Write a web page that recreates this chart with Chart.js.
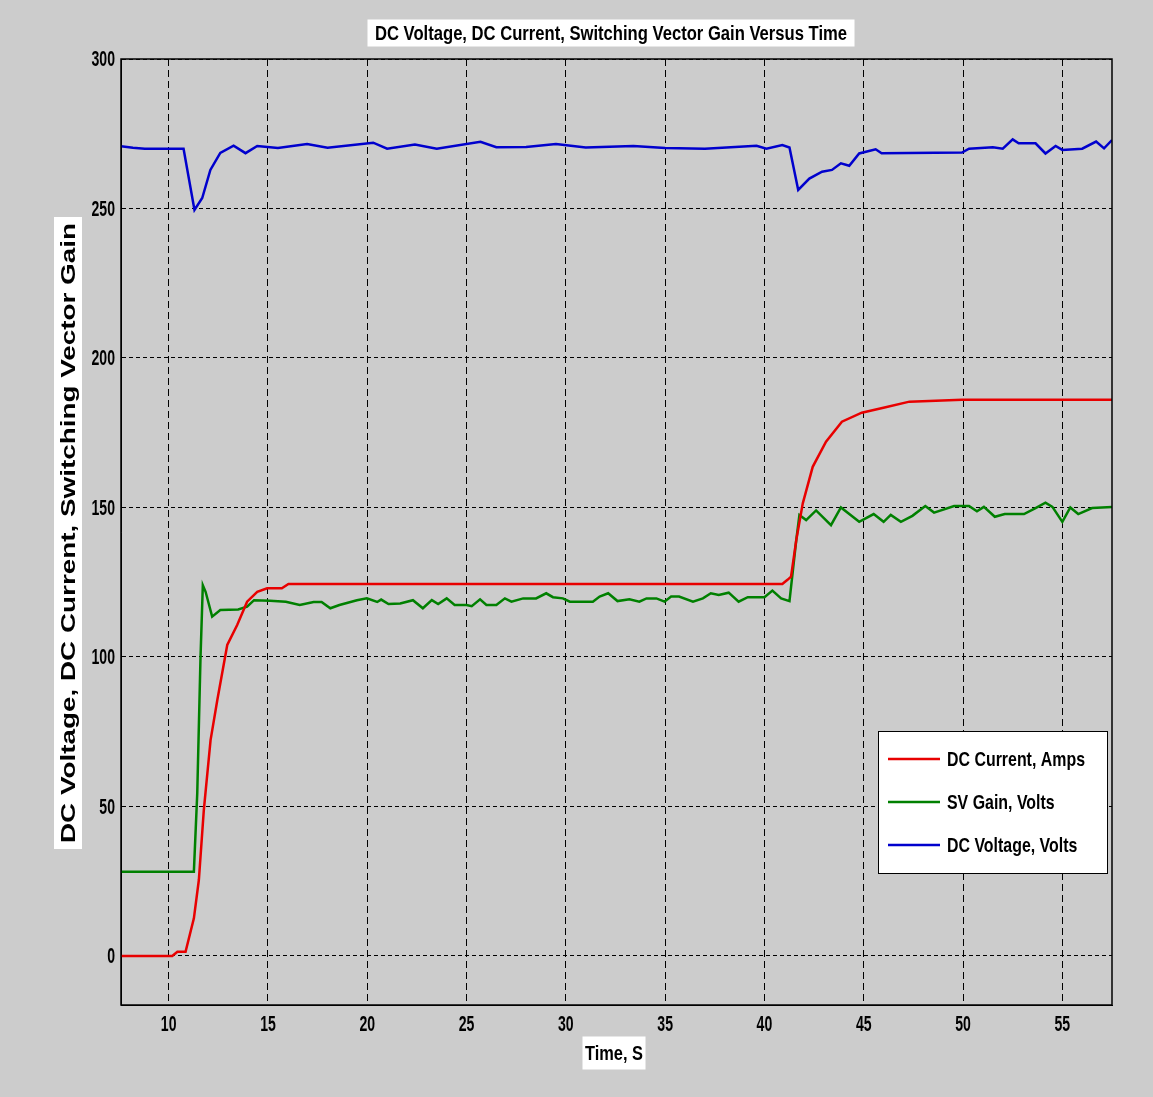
<!DOCTYPE html>
<html>
<head>
<meta charset="utf-8">
<script src="https://cdn.jsdelivr.net/npm/chart.js@4.4.1/dist/chart.umd.min.js"></script>
<style>
  html, body { margin: 0; padding: 0; background: #cccccc; }
  #wrap { width: 1153px; height: 1097px; }
</style>
</head>
<body>
<div id="wrap"><canvas id="chart" width="1153" height="1097"></canvas></div>
<script>
// axis ticks
const timeTicks = [10, 15, 20, 25, 30, 35, 40, 45, 50, 55];
const valueTicks = [0, 50, 100, 150, 200, 250, 300];

// DC current, amps
const currentTime = [7.6, 10.18, 10.44, 10.85, 11.27, 11.52, 11.77, 12.11, 12.45, 12.95, 13.45, 13.95, 14.46, 14.96, 15.7, 16.03,
  40.9, 41.16, 41.34, 41.6, 41.93, 42.43, 43.1, 43.9, 44.9, 46.1, 47.3, 49.95, 57.5];
const currentAmps = [0, 0, 1.4, 1.4, 12.6, 25.4, 48.8, 72.2, 85.6, 104, 110.7, 118.5, 121.8, 123, 123, 124.4,
  124.4, 125.8, 126.9, 139, 151.4, 163.6, 172, 178.7, 181.7, 183.5, 185.4, 186, 186];

// switching vector gain, volts
const gainTime = [7.6, 11.27, 11.44, 11.6, 11.72, 11.86, 12.19, 12.6, 13.5, 13.95, 14.3, 15.1, 15.9, 16.6, 17.3, 17.7,
  18.14, 18.6, 19.48, 19.98, 20.5, 20.7, 21.07, 21.66, 22.3, 22.8, 23.25, 23.57, 24.0, 24.4, 25.0, 25.26,
  25.68, 26.0, 26.5, 26.93, 27.26, 27.85, 28.5, 29.01, 29.35, 29.85, 30.2, 31.36, 31.7, 32.13, 32.6, 33.2,
  33.7, 34.06, 34.56, 34.97, 35.3, 35.7, 36.4, 36.9, 37.3, 37.7, 38.2, 38.7, 39.16, 40.0, 40.4, 40.84,
  41.26, 41.6, 41.76, 42.1, 42.6, 43.35, 43.85, 44.77, 45.5, 46.0, 46.36, 46.87, 47.45, 48.1, 48.54, 49.55,
  50.3, 50.7, 51.05, 51.6, 52.1, 53.07, 53.65, 54.15, 54.5, 55.0, 55.4, 55.8, 56.5, 57.5];
const gainVolts = [28.2, 28.2, 54.5, 99, 124, 121.8, 113.5, 115.7, 115.9, 116.8, 119, 118.8, 118.5, 117.4, 118.4, 118.4,
  116.3, 117.4, 119, 119.6, 118.4, 119.2, 117.7, 117.9, 119, 116.3, 119, 117.7, 119.6, 117.4, 117.4, 117,
  119.3, 117.4, 117.4, 119.6, 118.5, 119.6, 119.6, 121.3, 120, 119.6, 118.5, 118.5, 120.2, 121.3, 118.7, 119.3,
  118.5, 119.6, 119.6, 118.5, 120.2, 120.2, 118.5, 119.6, 121.3, 120.7, 121.5, 118.5, 120, 120, 122.2, 119.6,
  118.7, 139, 147.5, 145.8, 149, 144.1, 150, 145.2, 147.8, 145.2, 147.5, 145.2, 147.2, 150.5, 148.3, 150.5,
  150.5, 148.7, 150.2, 146.9, 147.8, 147.8, 149.8, 151.6, 150.2, 145.2, 150, 147.8, 149.8, 150.2];

// DC voltage, volts
const voltageTime = [7.6, 8.2, 8.8, 10.0, 10.75, 11.3, 11.69, 12.1, 12.6, 13.27, 13.87, 14.46, 15.5, 16.97, 18.0, 20.3,
  21.0, 22.4, 23.5, 25.7, 26.5, 28.0, 29.5, 31.0, 33.4, 35.0, 37.0, 39.6, 40.1, 40.9, 41.26, 41.7,
  42.26, 42.9, 43.4, 43.85, 44.27, 44.77, 45.6, 45.9, 49.95, 50.3, 51.5, 52.0, 52.5, 52.8, 53.65, 54.15,
  54.66, 55.0, 56.0, 56.7, 57.1, 57.5];
const voltageVolts = [270.8, 270.3, 270, 270, 270, 249.5, 253.5, 262.9, 268.6, 271, 268.5, 270.9, 270.2, 271.6, 270.3, 272,
  270, 271.4, 270, 272.3, 270.5, 270.6, 271.6, 270.4, 270.9, 270.2, 270, 271, 270, 271.2, 270.4, 256.2,
  260, 262.3, 262.9, 265.1, 264.3, 268.4, 269.8, 268.5, 268.7, 270, 270.5, 270, 273.1, 271.8, 271.8, 268.4,
  270.9, 269.6, 270, 272.4, 270.1, 272.9];

const pts = (xs, ys) => xs.map((x, i) => ({ x: x, y: ys[i] }));

const labelFont = "'Liberation Sans', Arial, sans-serif";
const NARROW = 0.64; // source figure uses a narrow face; squeeze Liberation Sans to match

// white box with text squeezed/stretched to a given width
function boxedText(ctx, text, cx, cy, boxW, boxH, textW, rotate) {
  ctx.save();
  ctx.translate(cx, cy);
  if (rotate) ctx.rotate(-Math.PI / 2);
  ctx.fillStyle = '#fff';
  ctx.fillRect(-boxW / 2, -boxH / 2, boxW, boxH);
  const w = ctx.measureText(text).width;
  ctx.scale(textW / w, 1);
  ctx.fillStyle = '#000';
  ctx.textAlign = 'center';
  ctx.textBaseline = 'middle';
  ctx.fillText(text, 0, 1);
  ctx.restore();
}

function narrowText(ctx, text, x, y, align) {
  ctx.save();
  ctx.translate(x, y);
  ctx.scale(NARROW, 1);
  ctx.textAlign = align;
  ctx.textBaseline = 'middle';
  ctx.fillText(text, 0, 0);
  ctx.restore();
}

const decorations = {
  id: 'decorations',
  afterDraw(chart) {
    const { ctx, chartArea: a } = chart;
    const xs = chart.scales.x, ys = chart.scales.y;
    ctx.save();
    ctx.strokeStyle = '#000';
    ctx.lineWidth = 1.5;
    ctx.strokeRect(a.left, a.top, a.right - a.left, a.bottom - a.top);

    // tick labels, placed from the chart's own scales
    ctx.fillStyle = '#000';
    ctx.font = 'bold 22px ' + labelFont;
    ys.ticks.forEach((t, i) => narrowText(ctx, String(t.value), a.left - 6, ys.getPixelForTick(i) + 1, 'right'));
    xs.ticks.forEach((t, i) => narrowText(ctx, String(t.value), xs.getPixelForTick(i), a.bottom + 20, 'center'));

    ctx.font = 'bold 20px ' + labelFont;
    boxedText(ctx, 'DC Voltage, DC Current, Switching Vector Gain Versus Time', 611, 33, 487, 27, 472);
    ctx.font = 'bold 21px ' + labelFont;
    boxedText(ctx, 'Time, S', 614, 1053, 63, 33, 58);
    ctx.font = 'bold 20px ' + labelFont;
    boxedText(ctx, 'DC Voltage, DC Current, Switching Vector Gain', 68, 533, 632, 28, 620, true);

    // legend box
    const lx = 878, ly = 731, lw = 229, lh = 142;
    ctx.fillStyle = '#fff';
    ctx.fillRect(lx, ly, lw, lh);
    ctx.lineWidth = 1;
    ctx.strokeStyle = '#000';
    ctx.strokeRect(lx + 0.5, ly + 0.5, lw, lh);
    ctx.font = 'bold 21px ' + labelFont;
    ctx.textBaseline = 'middle';
    const squeeze = 138 / ctx.measureText(chart.data.datasets[0].label).width;
    chart.data.datasets.forEach((ds, i) => {
      const yy = 759 + i * 43;
      ctx.strokeStyle = ds.borderColor;
      ctx.lineWidth = 2.5;
      ctx.beginPath();
      ctx.moveTo(888, yy);
      ctx.lineTo(940, yy);
      ctx.stroke();
      ctx.save();
      ctx.translate(947, yy + 1);
      ctx.scale(squeeze, 1);
      ctx.fillStyle = '#000';
      ctx.fillText(ds.label, 0, 0);
      ctx.restore();
    });
    ctx.restore();
  }
};

new Chart(document.getElementById('chart'), {
  type: 'line',
  data: {
    datasets: [
      { label: 'DC Current, Amps', data: pts(currentTime, currentAmps), borderColor: 'rgb(232,0,0)' },
      { label: 'SV Gain, Volts', data: pts(gainTime, gainVolts), borderColor: 'rgb(0,128,0)' },
      { label: 'DC Voltage, Volts', data: pts(voltageTime, voltageVolts), borderColor: 'rgb(0,0,205)' }
    ]
  },
  options: {
    responsive: false,
    animation: false,
    layout: { padding: { top: 59, right: 41, left: 0, bottom: 0 } },
    elements: {
      line: { borderWidth: 2.5, tension: 0, fill: false },
      point: { radius: 0 }
    },
    plugins: { legend: { display: false }, title: { display: false }, tooltip: { enabled: false } },
    scales: {
      x: {
        type: 'linear',
        min: 7.6,
        max: 57.5,
        afterFit: (s) => { s.height = 92; },
        afterBuildTicks: (s) => { s.ticks = timeTicks.map(v => ({ value: v })); },
        grid: { color: '#000', lineWidth: 1, drawTicks: false },
        border: { display: true, color: '#000', dash: [7, 4] },
        ticks: { display: false }
      },
      y: {
        type: 'linear',
        min: -16.4,
        max: 300,
        afterFit: (s) => { s.width = 121; },
        afterBuildTicks: (s) => { s.ticks = valueTicks.map(v => ({ value: v })); },
        grid: { color: '#000', lineWidth: 1, drawTicks: false },
        border: { display: true, color: '#000', dash: [4, 3] },
        ticks: { display: false }
      }
    }
  },
  plugins: [decorations]
});
</script>
</body>
</html>
